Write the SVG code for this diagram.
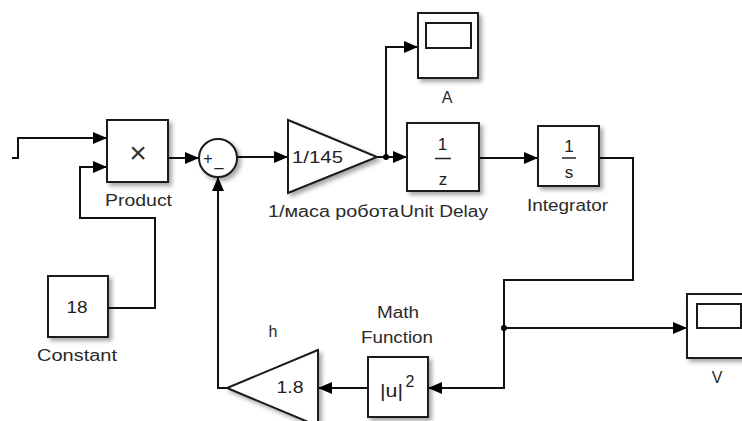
<svg xmlns="http://www.w3.org/2000/svg" width="742" height="421" viewBox="0 0 742 421">
<defs>
<filter id="sh" x="-20%" y="-20%" width="150%" height="150%">
<feGaussianBlur in="SourceAlpha" stdDeviation="2"/>
<feOffset dx="3" dy="3" result="b"/>
<feFlood flood-color="#000" flood-opacity="0.35"/>
<feComposite in2="b" operator="in"/>
<feMerge><feMergeNode/><feMergeNode in="SourceGraphic"/></feMerge>
</filter>
<marker id="ah" markerUnits="userSpaceOnUse" markerWidth="14" markerHeight="12" refX="14" refY="6" orient="auto">
<path d="M0,0 L14,6 L0,12 z" fill="#000"/>
</marker>
</defs>
<style>
.blk{fill:#fff;stroke:#1a1a1a;stroke-width:2}
.ln{fill:none;stroke:#111;stroke-width:2}
.lbl{font-family:"Liberation Sans",Arial,sans-serif;font-size:16px;fill:#2a2a2a;text-anchor:middle}
.bt{font-family:"Liberation Sans",Arial,sans-serif;font-size:17px;fill:#222;text-anchor:middle}
</style>
<rect width="742" height="421" fill="#fff"/>
<g id="connectors">
<polyline class="ln" points="12,158 18,158 18,138 107,138" marker-end="url(#ah)"/>
<polyline class="ln" points="108,308 155,308 155,218 80,218 80,167 107,167" marker-end="url(#ah)"/>
<line class="ln" x1="168" y1="158" x2="199" y2="158" marker-end="url(#ah)"/>
<line class="ln" x1="237" y1="157" x2="288" y2="157" marker-end="url(#ah)"/>
<line class="ln" x1="377" y1="157" x2="407" y2="157" marker-end="url(#ah)"/>
<polyline class="ln" points="386,157 386,47 418,47" marker-end="url(#ah)"/>
<circle cx="386" cy="157" r="3" fill="#000"/>
<line class="ln" x1="479" y1="158" x2="538" y2="158" marker-end="url(#ah)"/>
<polyline class="ln" points="599,158 633,158 633,280 504,280 504,388 428,388" marker-end="url(#ah)"/>
<line class="ln" x1="504" y1="328" x2="687" y2="328" marker-end="url(#ah)"/>
<circle cx="504" cy="328" r="3" fill="#000"/>
<line class="ln" x1="368" y1="388" x2="318" y2="388" marker-end="url(#ah)"/>
<polyline class="ln" points="227,388 218,388 218,177" marker-end="url(#ah)"/>
</g>
<g id="product">
<rect class="blk" x="107" y="120" width="61" height="62" filter="url(#sh)"/>
<text class="bt" x="138" y="163" style="font-size:30px;fill:#333">×</text>
<text class="lbl" x="138.5" y="206" textLength="67" lengthAdjust="spacingAndGlyphs">Product</text>
</g>
<g id="constant">
<rect class="blk" x="48" y="276" width="60" height="61" filter="url(#sh)"/>
<text class="bt" x="77" y="313" textLength="21" lengthAdjust="spacingAndGlyphs">18</text>
<text class="lbl" x="77" y="361" textLength="80" lengthAdjust="spacingAndGlyphs">Constant</text>
</g>
<g id="sum">
<circle class="blk" cx="218" cy="158" r="19" filter="url(#sh)"/>
<text class="bt" x="208" y="164" style="font-size:16px">+</text>
<text class="bt" x="219" y="166" style="font-size:16px">_</text>
</g>
<g id="gain-mass">
<polygon class="blk" points="288,120 377,157 288,193" filter="url(#sh)"/>
<text class="bt" x="292" y="163" textLength="51" lengthAdjust="spacingAndGlyphs" style="text-anchor:start">1/145</text>
<text class="lbl" x="268" y="217" textLength="131" lengthAdjust="spacingAndGlyphs" style="text-anchor:start">1/маса робота</text>
</g>
<g id="scope-a">
<rect class="blk" x="418" y="13" width="60" height="65" filter="url(#sh)"/>
<rect x="426" y="23" width="45" height="25" fill="#fff" stroke="#1a1a1a" stroke-width="2"/>
<text class="lbl" x="447" y="103">A</text>
</g>
<g id="unit-delay">
<rect class="blk" x="407" y="123" width="72" height="68" filter="url(#sh)"/>
<text class="bt" x="442.5" y="150">1</text>
<line x1="435" y1="158.5" x2="451" y2="158.5" stroke="#222" stroke-width="1.5"/>
<text class="bt" x="443" y="185">z</text>
<text class="lbl" x="444" y="217" textLength="88" lengthAdjust="spacingAndGlyphs">Unit Delay</text>
</g>
<g id="integrator">
<rect class="blk" x="538" y="126" width="61" height="60" filter="url(#sh)"/>
<text class="bt" x="569" y="152">1</text>
<line x1="562" y1="158" x2="576" y2="158" stroke="#222" stroke-width="1.5"/>
<text class="bt" x="569" y="178">s</text>
<text class="lbl" x="567.5" y="211" textLength="81" lengthAdjust="spacingAndGlyphs">Integrator</text>
</g>
<g id="scope-v">
<rect class="blk" x="687" y="294" width="62" height="64" filter="url(#sh)"/>
<rect x="697" y="304" width="44" height="24" fill="#fff" stroke="#1a1a1a" stroke-width="2"/>
<text class="lbl" x="717" y="383">V</text>
</g>
<g id="math-function">
<rect class="blk" x="368" y="357" width="60" height="60" filter="url(#sh)"/>
<text class="bt" x="380" y="397" textLength="23" lengthAdjust="spacingAndGlyphs" style="text-anchor:start;font-size:18px">|u|</text>
<text class="bt" x="410" y="387" style="font-size:16px">2</text>
<text class="lbl" x="398" y="318" textLength="42" lengthAdjust="spacingAndGlyphs">Math</text>
<text class="lbl" x="397" y="343" textLength="72" lengthAdjust="spacingAndGlyphs">Function</text>
</g>
<g id="gain-h">
<polygon class="blk" points="318,350 227,388 318,426" filter="url(#sh)"/>
<text class="bt" x="290" y="393" textLength="27" lengthAdjust="spacingAndGlyphs">1.8</text>
<text class="lbl" x="273" y="337">h</text>
</g>
</svg>
